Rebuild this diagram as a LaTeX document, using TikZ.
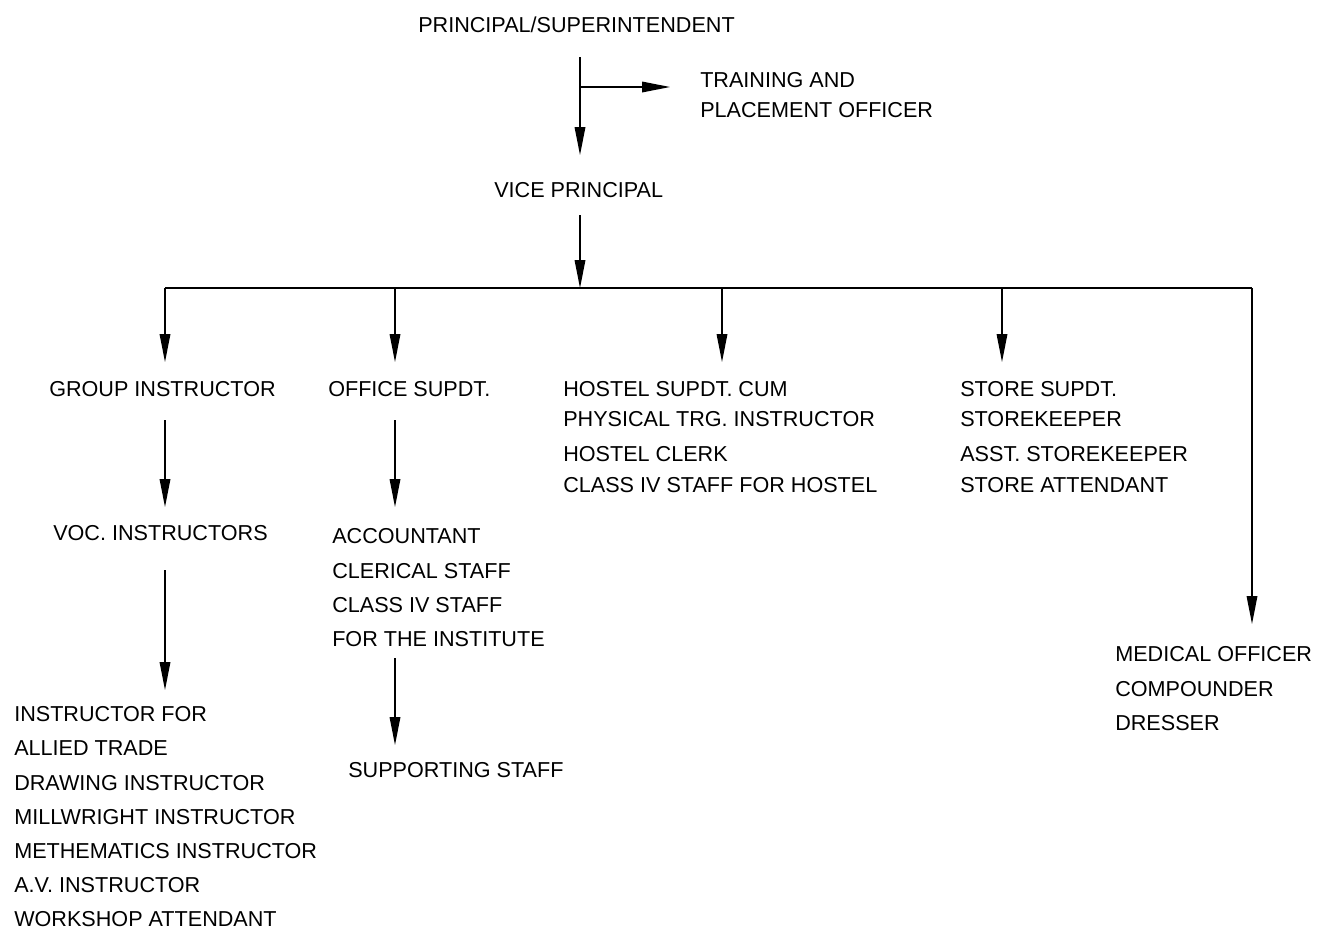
\documentclass[tikz,border=0pt]{standalone}
\usepackage{fontspec}
\setmainfont{Liberation Sans}
\usetikzlibrary{arrows.meta}
\begin{document}
\begin{tikzpicture}[x=0.75pt,y=-0.75pt,
  lbl/.style={anchor=base west, inner sep=0pt, font=\fontsize{16.2}{19}\selectfont},
  conn/.style={line width=0.9pt},
  arr/.style={conn, -{Triangle[length=21pt,width=8pt]}}]
\useasboundingbox (0,0) rectangle (1327,929);
% labels
\node[lbl] (ps) at (418,32) {PRINCIPAL/SUPERINTENDENT};
\node[lbl] (tr1) at (700,87) {TRAINING AND};
\node[lbl] (tr2) at (700,117) {PLACEMENT OFFICER};
\node[lbl] (vp) at (494,197) {VICE PRINCIPAL};
\node[lbl] (gi) at (49,396) {GROUP INSTRUCTOR};
\node[lbl] (os) at (328,396) {OFFICE SUPDT.};
\node[lbl] (h1) at (563,396) {HOSTEL SUPDT. CUM};
\node[lbl] (h2) at (563,426) {PHYSICAL TRG. INSTRUCTOR};
\node[lbl] (h3) at (563,461) {HOSTEL CLERK};
\node[lbl] (h4) at (563,492) {CLASS IV STAFF FOR HOSTEL};
\node[lbl] (s1) at (960,396) {STORE SUPDT.};
\node[lbl] (s2) at (960,426) {STOREKEEPER};
\node[lbl] (s3) at (960,461) {ASST. STOREKEEPER};
\node[lbl] (s4) at (960,492) {STORE ATTENDANT};
\node[lbl] (voc) at (53,540) {VOC. INSTRUCTORS};
\node[lbl] (a1) at (332,543) {ACCOUNTANT};
\node[lbl] (a2) at (332,578) {CLERICAL STAFF};
\node[lbl] (a3) at (332,612) {CLASS IV STAFF};
\node[lbl] (a4) at (332,646) {FOR THE INSTITUTE};
\node[lbl] (ss) at (348,777) {SUPPORTING STAFF};
\node[lbl] (l1) at (14,721) {INSTRUCTOR FOR};
\node[lbl] (l2) at (14,755) {ALLIED TRADE};
\node[lbl] (l3) at (14,790) {DRAWING INSTRUCTOR};
\node[lbl] (l4) at (14,824) {MILLWRIGHT INSTRUCTOR};
\node[lbl] (l5) at (14,858) {METHEMATICS INSTRUCTOR};
\node[lbl] (l6) at (14,892) {A.V. INSTRUCTOR};
\node[lbl] (l7) at (14,926) {WORKSHOP ATTENDANT};
\node[lbl] (m1) at (1115,661) {MEDICAL OFFICER};
\node[lbl] (m2) at (1115,696) {COMPOUNDER};
\node[lbl] (m3) at (1115,730) {DRESSER};
% connector points
\coordinate (psB) at (580,57);
\coordinate (vpT) at (580,155);
\coordinate (br) at (580,87);
\coordinate (trT) at (670,87);
\coordinate (vpB) at (580,215);
\coordinate (busM) at (580,288);
\coordinate (busL) at (165,288);
\coordinate (busR) at (1252,288);
\coordinate (bO) at (395,288);
\coordinate (bH) at (722,288);
\coordinate (bS) at (1002,288);
\coordinate (giT) at (165,362);
\coordinate (osT) at (395,362);
\coordinate (hT) at (722,362);
\coordinate (sT) at (1002,362);
\coordinate (mT) at (1252,624);
\coordinate (giB) at (165,420);
\coordinate (vocT) at (165,507);
\coordinate (vocB) at (165,570);
\coordinate (lT) at (165,690);
\coordinate (osB) at (395,420);
\coordinate (aT) at (395,507);
\coordinate (aB) at (395,658);
\coordinate (ssT) at (395,745);
% connectors
\draw[arr] (psB) -- (vpT);
\draw[arr] (br) -- (trT);
\draw[arr] (vpB) -- (busM);
\draw[conn] (busL) -- (busR);
\draw[arr] (busL) -- (giT);
\draw[arr] (bO) -- (osT);
\draw[arr] (bH) -- (hT);
\draw[arr] (bS) -- (sT);
\draw[arr] (busR) -- (mT);
\draw[arr] (giB) -- (vocT);
\draw[arr] (vocB) -- (lT);
\draw[arr] (osB) -- (aT);
\draw[arr] (aB) -- (ssT);
\end{tikzpicture}
\end{document}
